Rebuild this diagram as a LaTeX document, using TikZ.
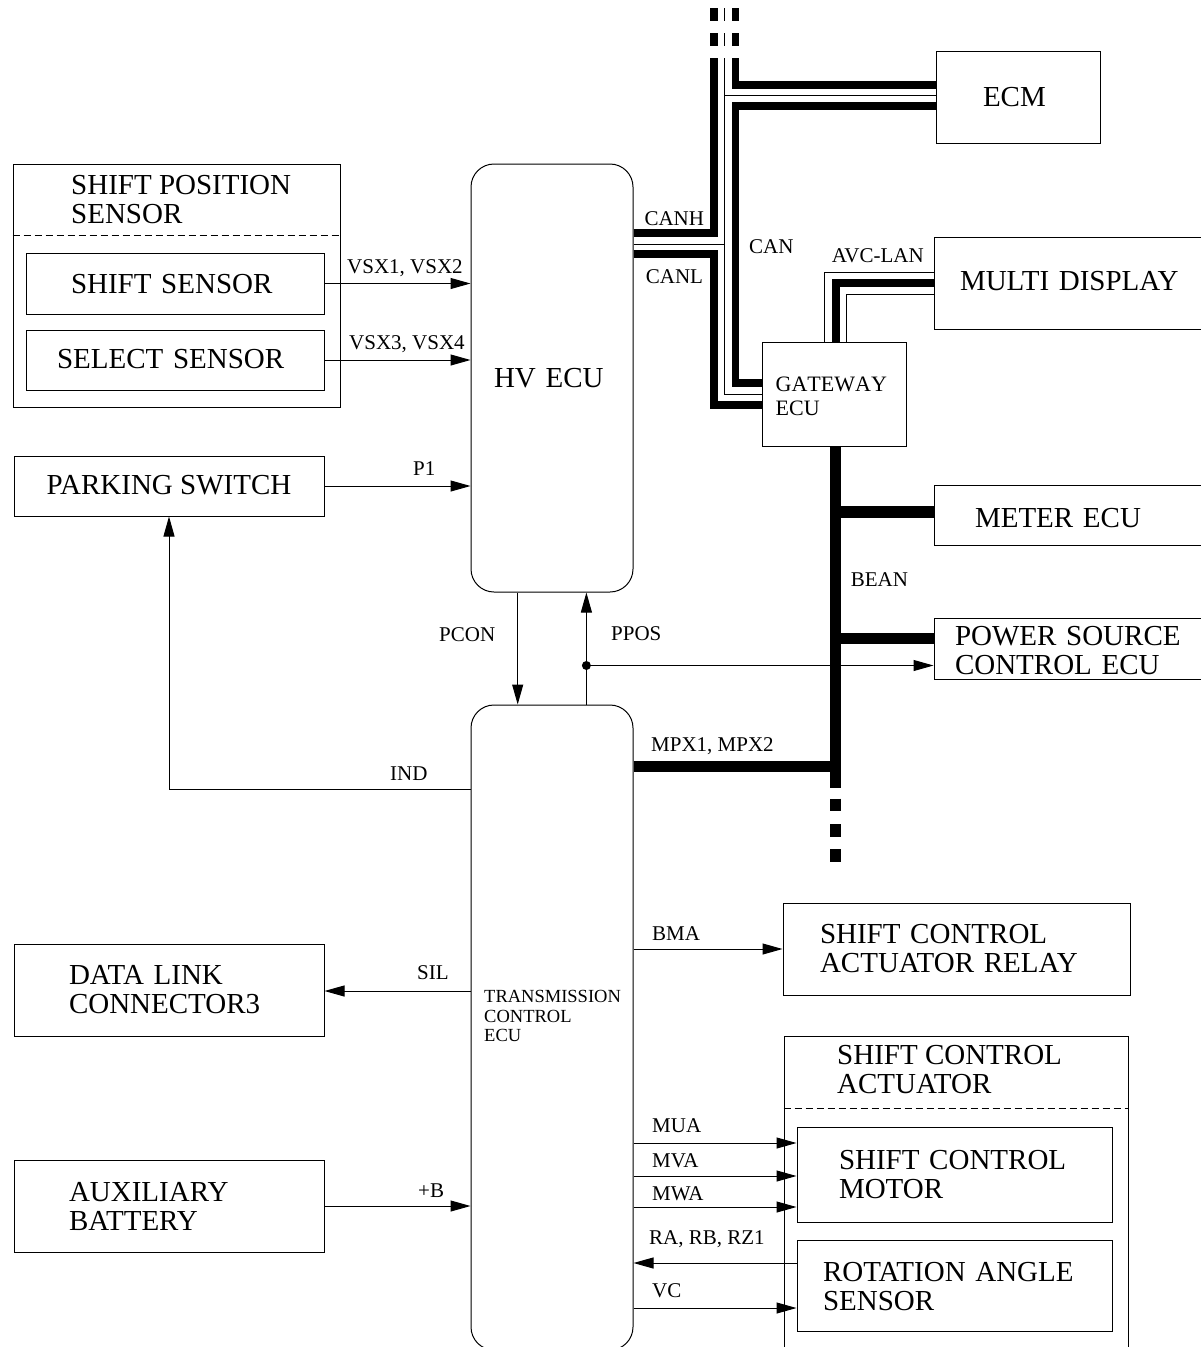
\documentclass[tikz,border=0pt]{standalone}
\usepackage{fontspec}
\setmainfont{Liberation Serif}
\newfontfamily\nokern[Kerning=Off]{Liberation Serif}
\usetikzlibrary{arrows.meta,positioning,calc}
\newcommand{\nudge}[2]{\raisebox{#1}[\height][\depth]{#2}}
\tikzset{
  box/.style    = {draw, line width=1pt, rectangle, inner sep=0pt, align=left,
                   font=\fontsize{29}{29}\selectfont},
  ecu/.style    = {box, rounded corners=23pt},
  title/.style  = {anchor=west, inner sep=0pt, align=left,
                   font=\fontsize{29}{29}\selectfont},
  tag/.style    = {anchor=base west, inner sep=0pt, font=\fontsize{21}{21}\selectfont},
  sig/.style    = {-{Triangle[length=20pt,width=11pt]}, line width=1pt},
  wire/.style   = {line width=1pt},
  bus/.style    = {line width=7.8pt},
  beam/.style   = {line width=11.3pt},
  junction/.style = {fill, circle, inner sep=0pt, minimum size=9pt},
}
\begin{document}
\begin{tikzpicture}[x=1pt, y=-1pt]
\useasboundingbox (0,0) rectangle (1200,1347);
% ---- free ends of the buses ----
\coordinate (canh) at (713.7,58);
\coordinate (canm) at (724.7,58);
\coordinate (canr) at (735.5,58);
\coordinate (bean) at (835.3,788);
% ---- controllers ----
\node[ecu, minimum width=162, minimum height=428, inner xsep=23pt, text width=116pt] (hv) at (552,378) {HV ECU};
\node[ecu, minimum width=162, minimum height=645] (tc) at (552,1027.5) {};
\node[title, font=\fontsize{18.5}{19.5}\selectfont] (tctext) at (484,1016) {TRANSMISSION\\CONTROL\\ECU};
% ---- left column ----
\node[box, minimum width=327, minimum height=243] (sps) at (176.5,285.5) {};
\node[title] (spstext) at (71,200) {SHIFT POSITION\\SENSOR};
\draw[wire, dash pattern=on 7pt off 4pt] (sps.west |- 0,235) -- (sps.east |- 0,235);
\node[box, minimum width=298, minimum height=61, inner xsep=45pt, text width=208pt] (shift) at (175,283.5) {\nudge{-1pt}{SHIFT SENSOR}};
\node[box, minimum width=298, minimum height=60, inner xsep=31pt, text width=236pt] (select) at (175,360) {\nudge{1pt}{SELECT SENSOR}};
\node[box, minimum width=310, minimum height=60] (park) at (169,486) {\nudge{1pt}{PARKING SWITCH}};
\node[box, minimum width=310, minimum height=92, inner xsep=55pt, text width=200pt] (dlc) at (169,990) {DATA LINK\\CONNECTOR3};
\node[box, minimum width=310, minimum height=92, inner xsep=55pt, text width=200pt] (batt) at (169,1206) {AUXILIARY\\BATTERY};
% ---- right column ----
\node[box, minimum width=164, minimum height=92, inner xsep=47pt, text width=70pt] (ecm) at (1018,97.5) {ECM};
\node[box, minimum width=144, minimum height=104, inner xsep=13pt, text width=118pt,
      font=\fontsize{22}{24}\selectfont\nokern] (gate) at (834.7,394) {\nudge{-2pt}{GATEWAY}\\\nudge{-2pt}{ECU}};
\node[box, minimum width=281, minimum height=92, inner xsep=26pt, text width=229pt] (multi) at (1074.5,283.5) {\nudge{2pt}{MULTI DISPLAY}};
\node[box, minimum width=281, minimum height=60, inner xsep=41pt, text width=199pt] (meter) at (1074.5,515) {\nudge{-3pt}{METER ECU}};
\node[box, minimum width=281, minimum height=61, inner xsep=21pt, text width=239pt] (power) at (1074.5,648.5) {\nudge{-2pt}{POWER SOURCE}\\\nudge{-2pt}{CONTROL ECU}};
\node[box, minimum width=347, minimum height=92, inner xsep=37pt, text width=273pt] (relay) at (956.5,949) {SHIFT CONTROL\\ACTUATOR RELAY};
\node[box, minimum width=344, minimum height=340] (act) at (956,1206) {};
\node[title] (acttext) at (837,1070) {SHIFT CONTROL\\ACTUATOR};
\draw[wire, dash pattern=on 7pt off 4pt] (act.west |- 0,1108) -- (act.east |- 0,1108);
\node[box, minimum width=315, minimum height=95, inner xsep=42pt, text width=231pt] (motor) at (954.5,1174.5) {SHIFT CONTROL\\MOTOR};
\node[box, minimum width=315, minimum height=91, inner xsep=26pt, text width=263pt] (angle) at (954.5,1285.5) {\nudge{-1pt}{ROTATION ANGLE}\\\nudge{-1pt}{SENSOR}};
% ---- CAN ----
\draw[bus] (hv.east |- 0,233.3) -| (canh);
\draw[bus] (hv.east |- 0,254.3) -| (713.7,404.7) -- (gate.west |- 0,404.7);
\draw[bus] (canr) |- (ecm.west |- 0,84.7);
\draw[bus] (ecm.west |- 0,106.3) -| (735.5,383) -- (gate.west |- 0,383);
\draw[wire] (canm) |- (gate.west |- 0,394);
\draw[wire] (hv.east |- 0,244) -- (canm |- 0,244);
\draw[wire] (canm |- 0,95.7) -- (ecm.west |- 0,95.7);
\foreach \x in {713.7,735.5}
  \draw[bus, dash pattern=on 13pt off 12pt] (\x,8) -- (\x,46);
\draw[wire, dash pattern=on 13pt off 12pt] (724.7,8) -- (724.7,46);
% ---- AVC-LAN ----
\draw[wire] (gate.north -| 824.7,0) |- (multi.west |- 0,272.7);
\draw[bus]  (gate.north -| 835.7,0) |- (multi.west |- 0,283);
\draw[wire] (gate.north -| 846,0) |- (multi.west |- 0,294);
% ---- BEAN ----
\draw[beam] (gate.south -| bean) -- (bean);
\draw[beam] (bean |- 0,512) -- (meter.west |- 0,512);
\draw[beam] (bean |- 0,638.3) -- (power.west |- 0,638.3);
\draw[beam] (tc.east |- 0,766.7) -- (bean |- 0,766.7);
\draw[beam, dash pattern=on 12.6pt off 12.7pt] (bean |- 0,798.7) -- (bean |- 0,862);
% ---- signals ----
\draw[sig] (shift.east) -- (hv.west |- shift.east);
\draw[sig] (select.east) -- (hv.west |- select.east);
\draw[sig] (park.east) -- (hv.west |- park.east);
\draw[sig] (tc.west |- 0,789) -| (park.south -| 169,0);
\draw[sig] (tc.west |- 0,991) -- (dlc.east |- 0,991);
\draw[sig] (batt.east) -- (tc.west |- batt.east);
\draw[sig] (hv.south -| 517.7,0) -- (tc.north -| 517.7,0);
\node[junction] (tap) at (586.4,665.5) {};
\draw[sig] (tc.north -| tap) -- (hv.south -| tap);
\draw[sig] (tap) -- (power.west |- tap);
\draw[sig] (tc.east |- relay.west) -- (relay.west);
\draw[sig] (tc.east |- 0,1143) -- (motor.west |- 0,1143);
\draw[sig] (tc.east |- 0,1176) -- (motor.west |- 0,1176);
\draw[sig] (tc.east |- 0,1207) -- (motor.west |- 0,1207);
\draw[sig] (angle.west |- 0,1263) -- (tc.east |- 0,1263);
\draw[sig] (tc.east |- 0,1308) -- (angle.west |- 0,1308);
% ---- signal names ----
\node[tag] (vsxa) at (347,273) {VSX1, VSX2};
\node[tag] (vsxb) at (349,349) {VSX3, VSX4};
\node[tag] (pone) at (413,475) {P1};
\node[tag] (canhtag) at (644.3,225) {CANH};
\node[tag] (canltag) at (645.7,283) {CANL};
\node[tag] (cantag) at (749,253) {CAN};
\node[tag] (avctag) at (831.7,262.7) {AVC-LAN};
\node[tag] (pcon) at (439,641.7) {PCON};
\node[tag] (ppos) at (611,640.7) {PPOS};
\node[tag] (beantag) at (850.7,586.7) {BEAN};
\node[tag] (mpx) at (651,751.7) {MPX1, MPX2};
\node[tag] (ind) at (390,780) {IND};
\node[tag] (sil) at (417,979) {SIL};
\node[tag] (plusb) at (418,1197) {+B};
\node[tag] (bma) at (652,940) {BMA};
\node[tag] (mua) at (652,1132) {MUA};
\node[tag] (mva) at (652,1167) {MVA};
\node[tag] (mwa) at (652,1200) {MWA};
\node[tag] (rarb) at (649,1244) {RA, RB, RZ1};
\node[tag] (vc) at (652,1297) {VC};
\end{tikzpicture}
\end{document}
